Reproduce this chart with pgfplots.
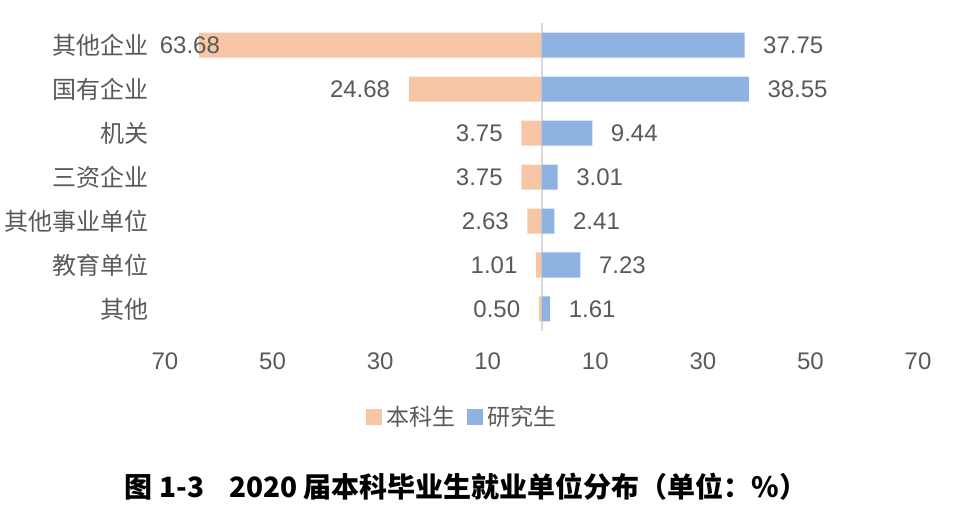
\documentclass[border=0pt]{standalone}
\usepackage{pgfplots}
\pgfplotsset{compat=1.18}
\usepackage{pgfplotstable}
\usepackage{fontspec}
\setmainfont{Liberation Sans}
\newfontfamily\cjk{Noto Sans CJK SC}
\definecolor{bkc}{HTML}{F6C6A6}
\definecolor{yjc}{HTML}{8EB2E2}
\definecolor{txt}{HTML}{595959}
\pgfplotstableread{
y bk yjs sh
0 0.50 1.61 -5.8
1 1.01 7.23 -5.8
2 2.63 2.41 -5.8
3 3.75 3.01 -5.8
4 3.75 9.44 -5.8
5 24.68 38.55 -5.8
6 63.68 37.75 14
}\data
\begin{document}
\begin{tikzpicture}
\useasboundingbox (-82.5pt,-88pt) rectangle (402pt,165.5pt);
\begin{axis}[
  at={(0,0)}, anchor=south west,
  scale only axis, width=376.5pt, height=154pt,
  xmin=-70, xmax=70, ymin=-0.5, ymax=6.5,
  /pgf/number format/assume math mode=true,
  xbar, bar width=12.5pt, bar shift=0pt,
  axis line style={draw=none},
  major tick length=0pt,
  xtick={-70,-50,-30,-10,10,30,50,70},
  xticklabel={\pgfmathparse{abs(\tick)}\pgfmathprintnumber[fixed,precision=0,assume math mode=true]{\pgfmathresult}},
  xticklabel style={font=\fontsize{12}{14}\selectfont, text=txt, yshift=-7.5pt},
  ytick={0,...,6},
  yticklabels={其他,教育单位,其他事业单位,三资企业,机关,国有企业,其他企业},
  yticklabel style={font=\cjk\fontsize{12}{14}\selectfont, text=txt, xshift=-4.8pt},
  extra x ticks={0}, extra x tick labels={},
  extra x tick style={grid=major, major grid style={draw=black!15, line width=1pt}},
  nodes near coords,
  nodes near coords style={font=\fontsize{12}{14}\selectfont, text=txt,
    /pgf/number format/fixed, /pgf/number format/precision=2, /pgf/number format/fixed zerofill,
    /pgf/number format/assume math mode=true},
  clip=false,
  legend columns=2,
  legend style={at={(axis description cs:0.3958,-0.279)}, anchor=center, draw=none,
    font=\cjk\fontsize{11.5}{13}\selectfont, text=txt,
    /tikz/every even column/.append style={column sep=4pt}},
  legend image code/.code={\fill[#1,draw=none] (0pt,-4pt) rectangle (8pt,4pt);},
]
\addplot[fill=bkc, draw=none,
  visualization depends on={\thisrow{sh} \as \sh},
  every node near coord/.append style={anchor=east, xshift=\sh pt}]
  table[x expr=-\thisrow{bk}, y=y, point meta=\thisrow{bk}] {\data};
\addlegendentry{本科生}
\addplot[fill=yjc, draw=none,
  every node near coord/.append style={anchor=west, xshift=5.8pt}]
  table[x=yjs, y=y, point meta=\thisrow{yjs}] {\data};
\addlegendentry{研究生}
\node[font=\cjk\bfseries\fontsize{14}{16}\selectfont, text=black] at (axis description cs:0.4,-0.506)
  {图 1-3\hspace{0.9em}2020 届本科毕业生就业单位分布（单位：\%）};
\end{axis}
\end{tikzpicture}
\end{document}
